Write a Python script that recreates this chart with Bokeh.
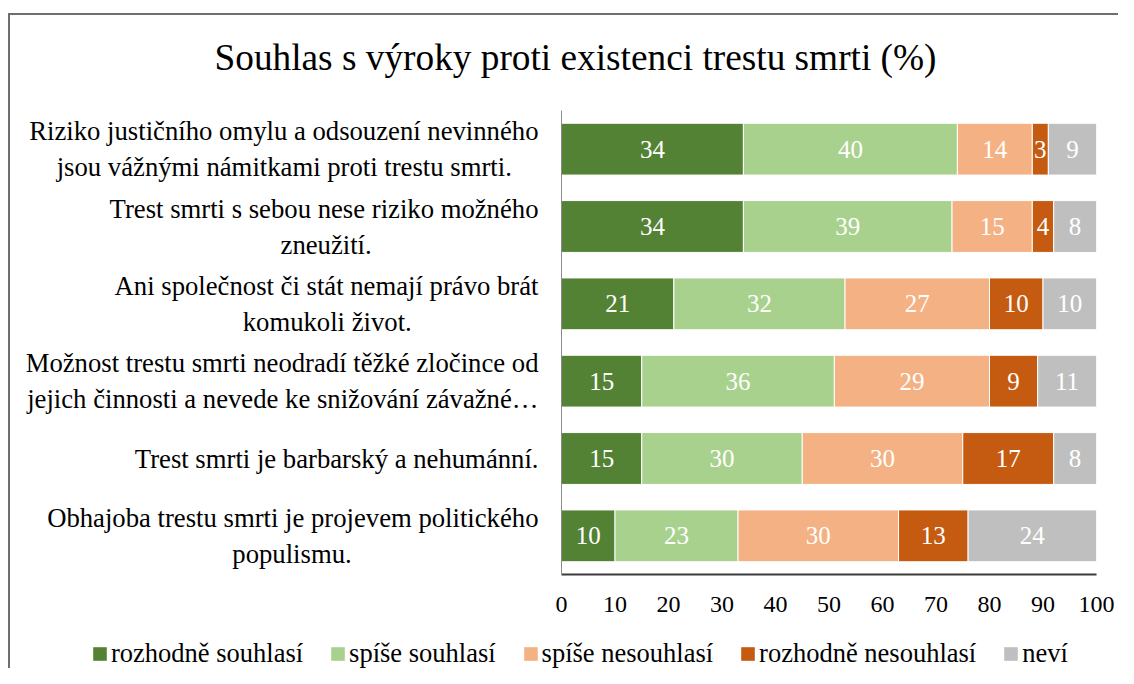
from bokeh.plotting import figure
from bokeh.layouts import column
from bokeh.models import ColumnDataSource, FactorRange, Range1d, Legend, LegendItem
from bokeh.embed import file_html
from bokeh.resources import INLINE
from bokeh.core.properties import value
import numpy as np

categories = [
    "Riziko justičního omylu a odsouzení nevinného\njsou vážnými námitkami proti trestu smrti.",
    "Trest smrti s sebou nese riziko možného\nzneužití.",
    "Ani společnost či stát nemají právo brát\nkomukoli život.",
    "Možnost trestu smrti neodradí těžké zločince od\njejich činnosti a nevede ke snižování závažné…",
    "Trest smrti je barbarský a nehumánní.",
    "Obhajoba trestu smrti je projevem politického\npopulismu.",
]
series_names = ["rozhodně souhlasí", "spíše souhlasí", "spíše nesouhlasí",
                "rozhodně nesouhlasí", "neví"]
rozhodne_souhlasi = [34, 34, 21, 15, 15, 10]
spise_souhlasi = [40, 39, 32, 36, 30, 23]
spise_nesouhlasi = [14, 15, 27, 29, 30, 30]
rozhodne_nesouhlasi = [3, 4, 10, 9, 17, 13]
nevi = [9, 8, 10, 11, 8, 24]
colors = ["#548235", "#A9D18E", "#F4B183", "#C55A11", "#BFBFBF"]
x_ticks = [0, 10, 20, 30, 40, 50, 60, 70, 80, 90, 100]
title_text = "Souhlas s výroky proti existenci trestu smrti (%)"

FONT = "Liberation Serif"
series = [rozhodne_souhlasi, spise_souhlasi, spise_nesouhlasi, rozhodne_nesouhlasi, nevi]
keys = ["s0", "s1", "s2", "s3", "s4"]

# approximate Times advance widths (1/1000 em), used to centre the lines of each label
_W = dict(zip("abcdefghijklmnopqrstuvwxyz",
              [444, 500, 444, 500, 444, 333, 500, 500, 278, 278, 500, 278, 778,
               500, 500, 500, 500, 333, 389, 278, 500, 500, 722, 500, 500, 444]))
_W.update({" ": 250, ".": 250, "…": 1000, "A": 722, "M": 889, "O": 722, "R": 667, "T": 611})
_BASE = str.maketrans("áčéěížýřšúůťň", "aceeizyrsuutn")


def _width(s):
    return sum(_W.get(ch, 500) for ch in s.translate(_BASE))


def _centred(label):
    lines = label.split("\n")
    if len(lines) == 1:
        return label
    wmax = max(_width(l) for l in lines)
    out = []
    for l in lines:
        n = int(round((wmax - _width(l)) / 2 / 250))
        out.append(l + "\u00a0" * n + ("\u200b" if n else ""))
    return "\n".join(out)


shown = [_centred(c) for c in categories]

W = 1108
H_TOP, H_MAIN, H_LEG = 95, 506, 52

# ---- title strip ----
top = figure(width=W, height=H_TOP, x_range=Range1d(0, 1), y_range=Range1d(0, 1),
             x_axis_location=None, y_axis_location=None, min_border=0,
             output_backend="svg", toolbar_location=None)
top.frame_align = False
top.outline_line_color = None
top.grid.visible = False
top.title.text = title_text
top.title.text_font = FONT
top.title.text_font_size = "37.3px"
top.title.text_font_style = "normal"
top.title.text_color = "#000000"
top.title.align = "left"
top.title.offset = 204
top.title.standoff = 38

# ---- main chart ----
data = {"cat": shown}
for k, s in zip(keys, series):
    data[k] = s
src = ColumnDataSource(data)

p = figure(
    width=W, height=H_MAIN,
    y_range=FactorRange(factors=shown[::-1]),
    x_range=Range1d(0, 100),
    output_backend="svg", toolbar_location=None,
    min_border_left=551, min_border_right=22, min_border_top=0, min_border_bottom=42,
)

p.hbar_stack(keys, y="cat", height=0.67, color=colors, source=src,
             line_color="white", line_width=1)

arr = np.array(series, dtype=float)
cum = np.cumsum(arr, axis=0)
lx, ly, lt = [], [], []
for i in range(arr.shape[0]):
    for j, c in enumerate(shown):
        lx.append(cum[i, j] - arr[i, j] / 2)
        ly.append(c)
        lt.append(str(int(arr[i, j])))
lsrc = ColumnDataSource(dict(x=lx, y=ly, t=lt))
p.text(x="x", y="y", text="t", source=lsrc, text_align="center", text_baseline="middle",
       text_color="white", text_font=value(FONT), text_font_size="25px")

p.xaxis.ticker = x_ticks
p.xaxis.major_tick_line_color = None
p.xaxis.minor_tick_line_color = None
p.xaxis.axis_line_color = "#3a3a3a"
p.xaxis.axis_line_width = 2
p.xaxis.major_label_text_font = FONT
p.xaxis.major_label_text_font_size = "24px"
p.xaxis.major_label_text_color = "#000000"
p.xaxis.major_label_standoff = 16

p.yaxis.major_tick_line_color = None
p.yaxis.minor_tick_line_color = None
p.yaxis.axis_line_color = "#8c8c8c"
p.yaxis.axis_line_width = 1
p.yaxis.major_label_text_font = FONT
p.yaxis.major_label_text_font_size = "26.7px"
p.yaxis.major_label_text_color = "#000000"
p.yaxis.major_label_standoff = 17

p.xgrid.grid_line_color = None
p.ygrid.grid_line_color = None
p.outline_line_color = None

# ---- legend strip (zero-height bars from the same data, only used for the legend) ----
leg = figure(width=W, height=H_LEG, x_range=Range1d(0, 100),
             y_range=FactorRange(factors=shown[::-1]),
             x_axis_location=None, y_axis_location=None, min_border=0,
             output_backend="svg", toolbar_location=None)
leg.frame_align = False
leg.outline_line_color = None
leg.grid.visible = False
leg_renderers = leg.hbar_stack(keys, y="cat", height=0, fill_color=colors, line_color=None,
                               source=src)
items = [LegendItem(label=n, renderers=[r]) for n, r in zip(series_names, leg_renderers)]
legend = Legend(items=items, orientation="horizontal", location=(81, -1),
                glyph_width=17, glyph_height=17, label_standoff=3, spacing=26,
                padding=0, margin=0, border_line_color=None, background_fill_alpha=0,
                label_text_font=FONT, label_text_font_size="26.5px",
                label_text_color="#000000")
leg.add_layout(legend)

layout = column(top, p, leg, styles={"margin-left": "8px", "margin-top": "13px",
                                     "border-left": "2px solid #6e6e6e",
                                     "border-top": "2px solid #6e6e6e"})

open("out.html", "w").write(file_html(layout, INLINE))
